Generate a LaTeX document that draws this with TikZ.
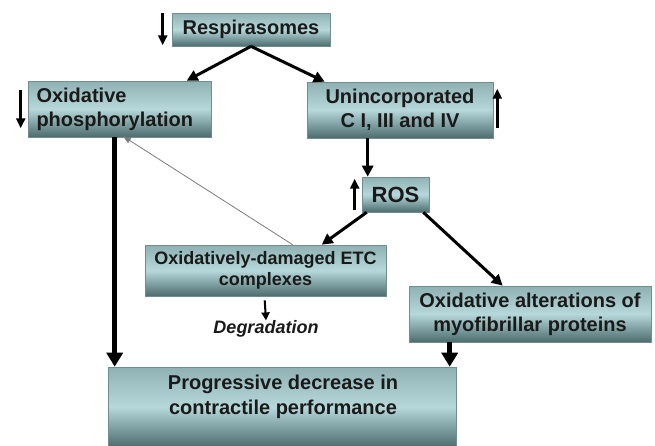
\documentclass[tikz,border=0pt]{standalone}
\usepackage{fontspec}
\setmainfont{Liberation Sans}
\usetikzlibrary{arrows.meta,calc}
\definecolor{boxtop}{HTML}{8FB1B3}
\definecolor{boxmid}{HTML}{B6D8DA}
\definecolor{boxbot}{HTML}{4C6C6E}
\definecolor{boxedge}{HTML}{6E8E90}
\definecolor{txt}{HTML}{1A1A1A}
\definecolor{thin}{HTML}{7A7A7A}
\tikzset{
  x=1pt, y=-1pt,
  box/.style={rectangle, inner sep=0pt, top color=boxtop, bottom color=boxbot, middle color=boxmid, draw=boxedge, line width=0.6pt, text=txt, font=\bfseries\fontsize{20}{24}\selectfont, align=center},
  plain/.style={inner sep=0pt, text=txt, align=center},
  conn/.style={line width=3pt, -{Triangle[length=11pt,width=11pt]}},
  thick conn/.style={line width=5pt, -{Triangle[length=14pt,width=16pt]}},
  thin conn/.style={line width=0.8pt, draw=thin, -{Triangle[length=8pt,width=6pt]}, shorten >=-2pt},
  indic/.style={line width=3pt, -{Triangle[length=10pt,width=9pt]}},
}
\begin{document}
\begin{tikzpicture}
\useasboundingbox (0,0) rectangle (655,445);
% boxes
\node[box, minimum width=158pt, minimum height=33pt] (resp) at (251,29.5) {Respirasomes};
\node[box, minimum width=183pt, minimum height=56pt, align=left, text width=166pt] (op) at (119.5,109) {Oxidative\\phosphorylation};
\node[box, minimum width=186pt, minimum height=56pt] (unc) at (400,110) {Unincorporated\\C I, III and IV};
\node[box, minimum width=67pt, minimum height=35pt, font=\bfseries\fontsize{22}{26}\selectfont] (ros) at (395.5,194.5) {ROS};
\node[box, minimum width=241pt, minimum height=51pt, font=\bfseries\fontsize{18}{21}\selectfont] (ode) at (265.5,270.5) {Oxidatively-damaged ETC\\complexes};
\node[box, minimum width=242pt, minimum height=56pt] (oam) at (530,314) {Oxidative alterations of\\myofibrillar proteins};
\node[box, minimum width=348pt, minimum height=80pt] (pdc) at (282,407) {};
\node[plain, font=\bfseries\fontsize{20}{25}\selectfont] (pdctext) at (283,397) {Progressive decrease in\\contractile performance};
\node[plain, font=\bfseries\itshape\fontsize{18}{21}\selectfont] (deg) at (266,329) {Degradation};
% connectors
\draw[conn] (resp.south) -- ($(op.north west)+(159,0)$);
\draw[conn] (resp.south) -- ($(unc.north west)+(18,0)$);
\draw[conn] ($(unc.south west)+(61,0)$) -- ($(ros.north west)+(6,0)$);
\draw[conn] ($(ros.south west)+(5,0)$) -- ($(ode.north west)+(177,0)$);
\draw[conn] ($(ros.south east)+(-6,0)$) -- ($(oam.north west)+(94,0)$);
\draw[thick conn] ($(op.south west)+(87,0)$) -- ($(pdc.north west)+(7,0)$);
\draw[thick conn] ($(oam.south west)+(41,0)$) -- ($(pdc.north west)+(342,0)$);
\draw[thin conn] ($(ode.north west)+(148,0)$) -- ($(op.south west)+(97,0)$);
\draw[line width=2pt, -{Triangle[length=8pt,width=8pt]}] ($(ode.south west)+(120,4)$) -- (deg.north);
% up/down indicators
\draw[indic] ($(resp.north west)+(-9,0)$) -- ($(resp.south west)+(-9,-1)$);
\draw[indic] ($(op.north west)+(-7,9)$) -- ($(op.south west)+(-7,-9)$);
\draw[indic] ($(unc.south east)+(4,-10)$) -- ($(unc.north east)+(4,7)$);
\draw[indic] ($(ros.south west)+(-7,-2)$) -- ($(ros.north west)+(-7,2)$);
\end{tikzpicture}
\end{document}
